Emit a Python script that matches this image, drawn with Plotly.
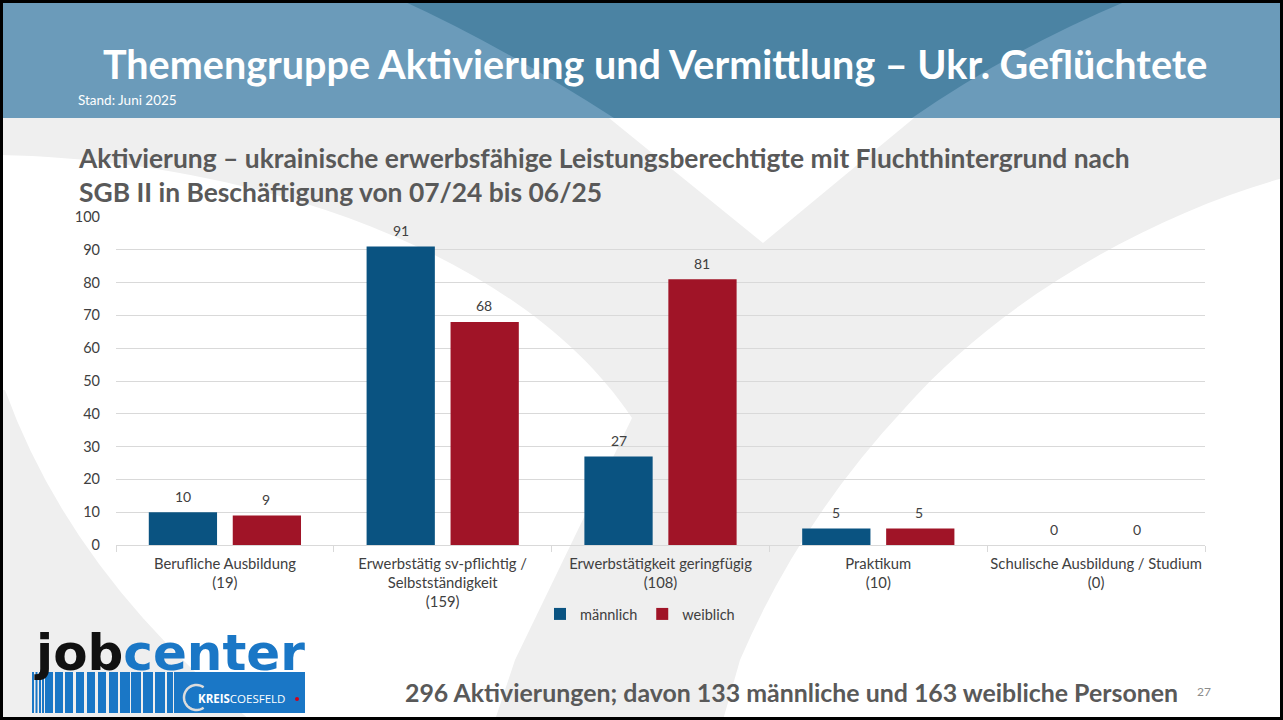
import math
import plotly.graph_objects as go

# ---------------- data ----------------
categories = [
    "Berufliche Ausbildung<br>(19)",
    "Erwerbstätig sv-pflichtig /<br>Selbstständigkeit<br>(159)",
    "Erwerbstätigkeit geringfügig<br>(108)",
    "Praktikum<br>(10)",
    "Schulische Ausbildung / Studium<br>(0)",
]
maennlich = [10, 91, 27, 5, 0]
weiblich = [9, 68, 81, 5, 0]
series_names = ["männlich", "weiblich"]
y_ticks = [0, 10, 20, 30, 40, 50, 60, 70, 80, 90, 100]

header_title = "Themengruppe Aktivierung und Vermittlung – Ukr. Geflüchtete"
stand_text = "Stand: Juni 2025"
chart_title = ("Aktivierung – ukrainische erwerbsfähige Leistungsberechtigte mit Fluchthintergrund nach"
               "<br>SGB II in Beschäftigung von 07/24 bis 06/25")
footer_text = "296 Aktivierungen; davon 133 männliche und 163 weibliche Personen"
page_no = "27"

# ---------------- layout geometry ----------------
W, H = 1283, 720
ML, MR, MT, MB = 116, 78, 217, 175
PW, PH = W - ML - MR, H - MT - MB


def px(x):
    return (x - ML) / PW


def py(y):
    return 1 - (y - MT) / PH


def path(cmds):
    out = []
    for c in cmds:
        if isinstance(c, str):
            out.append(c)
        else:
            out.append(f"{px(c[0]):.5f},{py(c[1]):.5f}")
    return " ".join(out)


FONT = "Lato, 'Open Sans', sans-serif"
MALE = "#0a5381"
FEMALE = "#a01427"
GREY_BG = "#efefef"

fig = go.Figure()
fig.add_trace(go.Bar(x=categories, y=maennlich, name=series_names[0],
                     marker=dict(color=MALE, line=dict(width=0))))
fig.add_trace(go.Bar(x=categories, y=weiblich, name=series_names[1],
                     marker=dict(color=FEMALE, line=dict(width=0))))

shapes = []
# content background: grey with white cut-outs
shapes.append(dict(type="rect", xref="paper", yref="paper", layer="below",
                   x0=px(0), x1=px(W), y0=py(118), y1=py(H),
                   fillcolor=GREY_BG, line=dict(width=0)))
shapes.append(dict(type="path", xref="paper", yref="paper", layer="below",
                   path=path(["M", (609, 118), "L", (914, 118), "L", (763, 243), "Z"]),
                   fillcolor="white", line=dict(width=0)))
shapes.append(dict(type="path", xref="paper", yref="paper", layer="below",
                   path=path(["M", (0, 155), "C", (250, 160), (520, 250), (632, 418),
                              "L", (515, 660), "L", (495, 720), "L", (250, 720),
                              "Q", (72, 575), (5, 390), "L", (0, 390), "Z"]),
                   fillcolor="white", line=dict(width=0)))
shapes.append(dict(type="path", xref="paper", yref="paper", layer="below",
                   path=path(["M", (1283, 178), "C", (1150, 215), (1000, 300), (905, 408),
                              "Q", (800, 520), (740, 660), "L", (723, 720),
                              "L", (1283, 720), "Z"]),
                   fillcolor="white", line=dict(width=0)))
# header
shapes.append(dict(type="rect", xref="paper", yref="paper", layer="below",
                   x0=px(0), x1=px(W), y0=py(0), y1=py(118),
                   fillcolor="#6b9bba", line=dict(width=0)))
shapes.append(dict(type="path", xref="paper", yref="paper", layer="below",
                   path=path(["M", (401, 0), "L", (1129, 0), "Q", (1010, 50), (912, 118),
                              "L", (614, 118), "Q", (500, 45), (401, 0), "Z"]),
                   fillcolor="#4b83a3", line=dict(width=0)))

# logo: blue block + stripes
LOGO_BLUE = "#1a77c6"
shapes.append(dict(type="rect", xref="paper", yref="paper", layer="above",
                   x0=px(174), x1=px(305), y0=py(672), y1=py(713),
                   fillcolor=LOGO_BLUE, line=dict(width=0)))
stripes = [(45, 53), (55, 63), (65, 73), (76, 84), (87, 95), (98, 106), (109, 118),
           (120, 130), (131, 141), (143, 153), (155, 165), (167, 173)]
thin = [(32, 34), (35.5, 37.5), (39, 41), (42, 44)]
for a, b in thin + stripes:
    shapes.append(dict(type="rect", xref="paper", yref="paper", layer="above",
                       x0=px(a), x1=px(b), y0=py(672), y1=py(713),
                       fillcolor=LOGO_BLUE, line=dict(width=0)))
# "C" arc of the Kreis logo
cx, cy, r = 196.5, 697.5, 12.5
arc = []
for i in range(0, 31):
    ang = math.radians(55 + i * (250 / 30))
    arc.append((cx + r * math.cos(ang), cy - r * math.sin(ang)))
arc_cmds = ["M", arc[0]]
for p in arc[1:]:
    arc_cmds += ["L", p]
shapes.append(dict(type="path", xref="paper", yref="paper", layer="above",
                   path=path(arc_cmds), line=dict(color="#dcdcdc", width=2.5)))
# red dot
shapes.append(dict(type="circle", xref="paper", yref="paper", layer="above",
                   x0=px(295), x1=px(299), y0=py(697), y1=py(701),
                   fillcolor="#d0021b", line=dict(width=0)))
# slide border
shapes.append(dict(type="rect", xref="paper", yref="paper", layer="above",
                   x0=px(1.5), x1=px(W - 1.5), y0=py(1.5), y1=py(H - 1.5),
                   line=dict(color="black", width=3)))

annotations = []


def ann(text, x, y, size, color, xanchor="left", bold=False, family=FONT, yanchor="middle"):
    annotations.append(dict(text=f"<b>{text}</b>" if bold else text,
                            x=px(x), y=py(y), xref="paper", yref="paper",
                            xanchor=xanchor, yanchor=yanchor, showarrow=False,
                            align="left",
                            font=dict(family=family, size=size, color=color)))


ann(header_title, 655, 64, 39.5, "white", xanchor="center", bold=True)
ann(stand_text, 76, 100, 13.5, "white")
ann(chart_title, 76, 175, 26.4, "#595959", bold=True)
ann(footer_text, 403, 692, 24.9, "#595959", bold=True)
ann(page_no, 1195, 691, 12, "#8c8c8c")

# logo text
annotations.append(dict(
    text="<b><span style='color:#111111'>job</span><span style='color:%s'>center</span></b>" % LOGO_BLUE,
    x=px(169), y=py(653), xref="paper", yref="paper", xanchor="center", yanchor="middle",
    showarrow=False, font=dict(family="DejaVu Sans, sans-serif", size=50)))
annotations.append(dict(
    text="<b>KREIS</b>COESFELD", x=px(196), y=py(698), xref="paper", yref="paper",
    xanchor="left", yanchor="middle", showarrow=False,
    font=dict(family="'Open Sans', sans-serif", size=11.5, color="white")))

# data labels
for trace_vals, shift in ((maennlich, -42), (weiblich, 41)):
    for c, v in zip(categories, trace_vals):
        annotations.append(dict(text=str(v), x=c, y=v, xref="x", yref="y",
                                xshift=shift, yshift=16, showarrow=False,
                                yanchor="middle",
                                font=dict(family=FONT, size=14, color="#404040")))

fig.update_layout(
    width=W, height=H,
    margin=dict(l=ML, r=MR, t=MT, b=MB, pad=0),
    paper_bgcolor="white",
    plot_bgcolor="rgba(0,0,0,0)",
    barmode="group", bargap=0.229, bargroupgap=0.187,
    font=dict(family=FONT, size=14, color="#404040"),
    shapes=shapes,
    annotations=annotations,
    showlegend=True,
    legend=dict(orientation="h", x=px(640), y=py(614), xanchor="center", yanchor="middle",
                font=dict(size=14.5, color="#404040"), itemwidth=30,
                bgcolor="rgba(0,0,0,0)"),
    xaxis=dict(showgrid=False, showline=True, linecolor="#d9d9d9", linewidth=1,
               ticks="outside", tickson="boundaries", ticklen=6, tickcolor="#d9d9d9",
               tickangle=0, automargin=False,
               tickfont=dict(size=14.8, color="#404040"), ticklabelstandoff=5,
               fixedrange=True),
    yaxis=dict(range=[0, 100], tickvals=y_ticks, showgrid=True, gridcolor="#d9d9d9",
               gridwidth=1, zeroline=False, showline=False, ticks="",
               tickfont=dict(size=14.5, color="#404040"), ticklabelstandoff=15,
               automargin=False, fixedrange=True),
)

fig.write_html("out.html", config={"displayModeBar": False},
               post_script="document.body.style.margin='0';document.body.style.overflow='hidden';")
